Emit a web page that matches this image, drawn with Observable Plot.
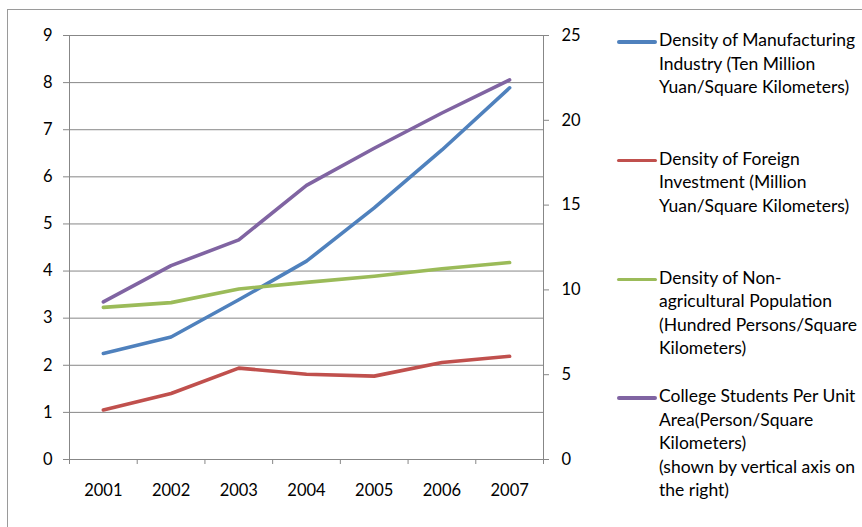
<!DOCTYPE html>
<html>
<head>
<meta charset="utf-8">
<script src="https://cdn.jsdelivr.net/npm/d3@7"></script>
<script src="https://cdn.jsdelivr.net/npm/@observablehq/plot@0.6"></script>
<style>
  body { margin: 0; background: #fff; font-family: Lato, "Open Sans", sans-serif; }
  #wrap { position: relative; width: 862px; height: 527px; overflow: hidden; background: #fff; }
  #frame { position: absolute; left: 7px; top: 9px; right: -10px; bottom: -10px;
           border-top: 1px solid #9a9a9a; border-left: 1px solid #9a9a9a; }
  #chart { position: absolute; left: 0; top: 0; }
  #legend { position: absolute; left: 617px; top: 28px; }
  .item { height: 118.8px; display: flex; align-items: flex-start; }
  .swatch { width: 40px; height: 3.6px; border-radius: 2px; margin-top: 12px; flex: none; }
  .label { margin-left: 2px; font-size: 17.5px; line-height: 23.5px; white-space: pre; color: #000; }
</style>
</head>
<body>
<div id="wrap">
  <div id="frame"></div>
  <div id="chart"></div>
  <div id="legend"></div>
</div>
<script>
// Categories
const years = ["2001", "2002", "2003", "2004", "2005", "2006", "2007"];

// Series plotted against the left axis
const manufacturing     = [2.25, 2.60, 3.39, 4.21, 5.34, 6.57, 7.89];
const foreignInvestment = [1.05, 1.40, 1.94, 1.81, 1.77, 2.06, 2.19];
const nonAgPopulation   = [3.23, 3.33, 3.62, 3.76, 3.89, 4.05, 4.18];

// Series plotted against the right axis
const collegeStudents   = [9.29, 11.43, 12.95, 16.16, 18.35, 20.43, 22.38];

// Axis ticks
const leftTicks  = [0, 1, 2, 3, 4, 5, 6, 7, 8, 9];
const rightTicks = [0, 5, 10, 15, 20, 25];

const seriesNames = [
  "Density of Manufacturing\nIndustry (Ten Million\nYuan/Square Kilometers)",
  "Density of Foreign\nInvestment (Million\nYuan/Square Kilometers)",
  "Density of Non-\nagricultural Population\n(Hundred Persons/Square\nKilometers)",
  "College Students Per Unit\nArea(Person/Square\nKilometers)\n(shown by vertical axis on\nthe right)"
];
const seriesColors = ["#4F81BD", "#C0504D", "#9BBB59", "#8064A2"];

// Right-axis values are rescaled onto the left-axis domain
const leftMax = d3.max(leftTicks);
const rightMax = d3.max(rightTicks);
const toLeft = v => v * leftMax / rightMax;

const rows = [];
[manufacturing, foreignInvestment, nonAgPopulation].forEach((vals, s) =>
  vals.forEach((v, i) => rows.push({series: seriesNames[s], i, value: v})));
collegeStudents.forEach((v, i) => rows.push({series: seriesNames[3], i, value: toLeft(v)}));

const grid = "#878787";

const chart = Plot.plot({
  width: 600,
  height: 527,
  marginLeft: 69,
  marginRight: 57,
  marginTop: 35,
  marginBottom: 68,
  style: {fontFamily: "Lato, 'Open Sans', sans-serif", fontSize: "16.5px", color: "#000", background: "transparent"},
  x: {domain: [0, years.length]},
  y: {domain: [0, leftMax]},
  color: {domain: seriesNames, range: seriesColors},
  marks: [
    Plot.ruleY(leftTicks, {stroke: grid, strokeWidth: 1}),
    Plot.ruleX([0, years.length], {stroke: grid, strokeWidth: 1}),
    Plot.axisY(leftTicks, {anchor: "left", tickSize: 6, tickPadding: 11, stroke: grid, fill: "#000", label: null}),
    Plot.axisY(rightTicks.map(toLeft), {
      anchor: "right", tickSize: 5, tickPadding: 13, stroke: grid, fill: "#000", label: null,
      tickFormat: d => String(Math.round(d * rightMax / leftMax))
    }),
    Plot.axisX(d3.range(years.length + 1), {tickSize: 5, stroke: grid, tickFormat: () => "", label: null}),
    Plot.axisX(years.map((d, i) => i + 0.5), {
      tickSize: 0, tickPadding: 25, fill: "#000", label: null,
      tickFormat: d => years[Math.floor(d)]
    }),
    Plot.line(rows, {
      x: d => d.i + 0.5, y: "value", z: "series", stroke: "series",
      strokeWidth: 3.6, strokeLinecap: "round", strokeLinejoin: "round"
    })
  ]
});
document.getElementById("chart").append(chart);

// Legend
const legend = document.getElementById("legend");
seriesNames.forEach((name, k) => {
  const item = document.createElement("div");
  item.className = "item";
  const sw = document.createElement("div");
  sw.className = "swatch";
  sw.style.background = seriesColors[k];
  const lab = document.createElement("div");
  lab.className = "label";
  lab.textContent = name;
  item.append(sw, lab);
  legend.append(item);
});
</script>
</body>
</html>
